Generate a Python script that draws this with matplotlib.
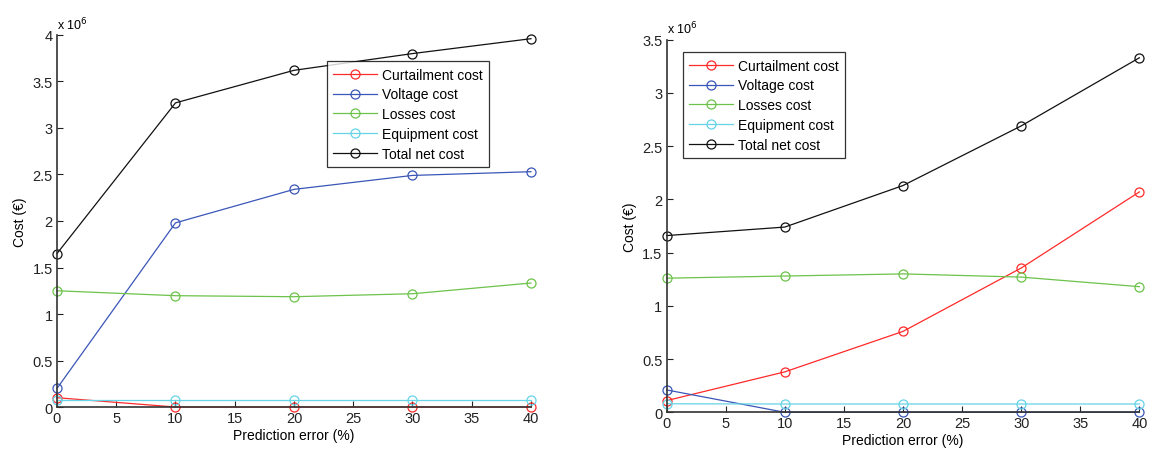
import matplotlib
matplotlib.use("Agg")
import matplotlib.pyplot as plt

plt.rcParams["font.family"] = ["Liberation Sans", "DejaVu Sans"]
plt.rcParams["font.size"] = 8.5

errors = [0, 10, 20, 30, 40]
names = ["Curtailment cost", "Voltage cost", "Losses cost", "Equipment cost", "Total net cost"]
colors = ["#ff2a2a", "#3a56b8", "#6cc24a", "#66d3e6", "#111111"]

# left panel (values in 1e6 EUR)
left_curtail = [0.10, 0.0, 0.0, 0.0, 0.0]
left_voltage = [0.20, 1.98, 2.34, 2.49, 2.53]
left_losses = [1.25, 1.197, 1.186, 1.218, 1.333]
left_equip = [0.075, 0.075, 0.075, 0.075, 0.075]
left_total = [1.65, 3.27, 3.62, 3.80, 3.96]

# right panel
right_curtail = [0.11, 0.38, 0.76, 1.355, 2.07]
right_voltage = [0.21, 0.0, 0.0, 0.0, 0.0]
right_losses = [1.26, 1.28, 1.30, 1.27, 1.18]
right_equip = [0.08, 0.078, 0.078, 0.078, 0.078]
right_total = [1.66, 1.74, 2.13, 2.69, 3.33]

fig = plt.figure(figsize=(11.56, 4.52), dpi=100)
ax1 = fig.add_axes([0.0493, 0.0973, 0.41, 0.8231])
ax2 = fig.add_axes([0.5767, 0.0856, 0.4089, 0.8244])


def draw(ax, series, ymax, yticks, legend_anchor):
    for vals, name, c in zip(series, names, colors):
        ax.plot(errors, vals, color=c, lw=0.9, marker="o", ms=6.5,
                mfc="none", mec=c, mew=0.9, label=name, clip_on=False)
    ax.set_xlim(0, 40)
    ax.set_ylim(0, ymax)
    ax.set_xticks(range(0, 45, 5))
    ax.set_yticks(yticks)
    ax.set_yticklabels([f"{t:g}" for t in yticks])
    ax.spines["top"].set_visible(False)
    ax.spines["right"].set_visible(False)
    for s in ("left", "bottom"):
        ax.spines[s].set_color("#333333")
        ax.spines[s].set_linewidth(1.2)
    ax.tick_params(direction="in", length=4, width=0.8, labelsize=10.5,
                   colors="#222222", pad=3)
    ax.set_xlabel("Prediction error (%)", fontsize=10, labelpad=2)
    ax.set_ylabel("Cost (€)", fontsize=10, labelpad=4)
    ax.text(0.0, 1.008, r"x 10$^{6}$", transform=ax.transAxes, fontsize=9,
            ha="left", va="bottom")
    leg = ax.legend(loc="upper left", bbox_to_anchor=legend_anchor,
                    fontsize=10, frameon=True, fancybox=False,
                    handlelength=3.2, borderpad=0.45, labelspacing=0.42,
                    handletextpad=0.3, borderaxespad=0)
    leg.get_frame().set_edgecolor("black")
    leg.get_frame().set_linewidth(0.9)


draw(ax1, [left_curtail, left_voltage, left_losses, left_equip, left_total],
     4, [0, 0.5, 1, 1.5, 2, 2.5, 3, 3.5, 4], (0.569, 0.929))
draw(ax2, [right_curtail, right_voltage, right_losses, right_equip, right_total],
     3.5, [0, 0.5, 1, 1.5, 2, 2.5, 3, 3.5], (0.034, 0.966))

fig.savefig("out.png", dpi=100)
